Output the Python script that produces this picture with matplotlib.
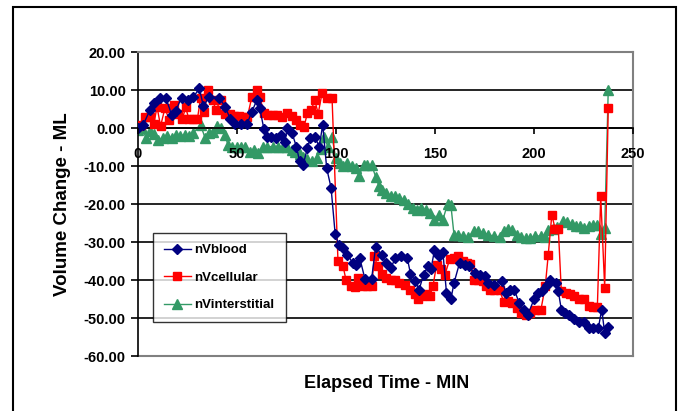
import matplotlib
matplotlib.use("Agg")
import matplotlib.pyplot as plt
from matplotlib.patches import Rectangle

plt.rcParams['font.family'] = ['Liberation Sans', 'DejaVu Sans']

# elapsed time (min) and volume change (ml) per series
t_blood = [0, 2.6, 6, 8, 11, 14, 17, 19, 22, 25, 28, 31, 33, 36, 41, 44, 46.5, 49, 52, 55,
           57.5, 60, 61.5, 63.6, 65, 67, 69.6, 72, 74, 75.5, 77.7, 80, 81.6, 83.4, 85.6, 87,
           89.3, 91.5, 93.3, 95.3, 97.5, 99.6, 101.4, 103.6, 105.8, 108.4, 110, 112, 114.6,
           118, 120, 123, 125, 127.7, 130, 133, 136, 137.6, 140, 142, 144.2, 146.4, 148,
           149.7, 152, 154, 155.8, 158, 159.6, 162.4, 165, 167, 170, 172.7, 175, 177, 180,
           183.7, 186, 188, 190, 192.5, 194.7, 196.9, 200, 202, 204, 206.5, 208, 211, 212.3,
           213.8, 215.5, 217.7, 220, 222.6, 225.4, 227.6, 230, 232.5, 234.2, 235.7, 237.5]
v_blood = [0, 0.8, 4.7, 6.5, 8, 8, 3.5, 4.5, 8, 7.3, 8.2, 10.4, 5.8, 8.2, 8, 5.6, 2.5, 1, 1, 1,
           4.3, 7.3, 5.2, -0.3, -2.3, -2.3, -2.5, -1.8, -3.6, -0.1, -1.2, -4.9, -8.7, -9.7,
           -5.2, -2.7, -2.3, -4.9, 0.8, -10.6, -15.7, -28, -30.7, -31.6, -33.3, -35.5, -36.1,
           -34.2, -39.7, -39.7, -31.3, -33.3, -35.5, -36.8, -34.2, -33.8, -34.2, -38.3, -40.3,
           -42.5, -38.6, -36.4, -37.1, -32.2, -33.6, -32.7, -43.4, -45.1, -40.8, -35.5, -36,
           -36.4, -38.1, -38.6, -39, -40.8, -41.2, -40.3, -43.4, -42.7, -42.5, -46, -47.8,
           -49.1, -45.1, -43.4, -43, -41.2, -39.9, -40.8, -43, -47.8, -48.6, -49.3, -50.2,
           -51.1, -51.1, -52.6, -52.6, -52.6, -47.8, -53.9, -52.3]

t_cell = [0, 1.5, 3.3, 6, 8, 9.6, 11.4, 13.6, 15.8, 18, 20, 22.4, 24, 25.7, 28, 30, 31.6, 33.4,
          35.5, 37.8, 39.3, 41.7, 44, 46.5, 48.7, 51, 53, 55.3, 57.5, 60, 61.5, 63.6, 65.8, 68,
          70.2, 72.9, 75.5, 77.7, 80, 81.6, 83.8, 85.6, 87.4, 89.3, 91, 93, 95.3, 98, 101,
          103.6, 105, 107.5, 109.7, 111.3, 113.5, 115.7, 118, 119.4, 121, 123.4, 125.5, 127.7,
          130, 132, 134.8, 137.6, 140, 141.4, 143.5, 145.7, 147.5, 149, 150.8, 153, 155, 157.4,
          159.6, 161.8, 164, 166, 167.7, 169.5, 171.6, 174, 176, 178, 180, 182.6, 184.8, 187,
          189, 191.4, 193.6, 195.8, 198, 200.6, 203.5, 205.7, 207.2, 209, 210.7, 212.3, 213.8,
          216, 218, 220.4, 222.6, 225.4, 227.6, 230, 232, 233.7, 235.7, 237.5]
v_cell = [0.4, 0.8, 3, 2.8, 1, 5.6, 0.5, 5.2, 2.1, 6, 3.8, 2.3, 5.4, 2.5, 2.3, 2.3, 8, 4.3, 10.1,
          7.3, 4.7, 7.3, 3.8, 3.7, 3.1, 3.1, 3, 3, 8.2, 10, 8.2, 4, 3.4, 3.4, 3.4, 3, 4, 3.1,
          2.1, 0.8, 0.2, 4, 4.7, 7.3, 3.8, 9.3, 8, 8, -35, -36.4, -39.9, -41.6, -41.8, -39.5,
          -41.5, -41.6, -41.6, -33.8, -36.4, -38.3, -39.5, -40, -40, -40.8, -41.2, -42.5,
          -43.8, -45.1, -44.3, -43.8, -44.1, -41.5, -36, -37.1, -38.6, -34.6, -34.2, -33.8,
          -35.1, -35.5, -35.7, -39.9, -40, -40.3, -41.5, -42.5, -42.7, -42.7, -45.8, -45.5,
          -46, -47.3, -48.6, -49.1, -48.6, -47.8, -47.8, -41.6, -33.3, -22.8, -26.6, -26.6,
          -43, -43.3, -43.6, -44.1, -45, -45.1, -46.9, -47.1, -47.1, -18, -42, 5.3]

t_inter = [0, 2.2, 4, 6, 8, 10.3, 12.5, 14.7, 17, 19, 21.3, 23.5, 25.7, 28, 31.6, 33.8, 36, 38,
           40, 41.7, 44, 45.4, 47.6, 49.8, 52, 54, 56.4, 58.6, 60.8, 63, 65, 68, 70.7, 73, 75,
           77.7, 79.5, 81.6, 83.4, 85.6, 87.8, 90.4, 92.2, 93.7, 96, 98, 99.9, 101.8, 103.6,
           105.8, 108, 110, 111.5, 114, 115.7, 118, 120, 121.6, 123.4, 125.5, 127.7, 130, 132,
           134.3, 136.5, 138.7, 141, 143, 145.3, 147.5, 149.7, 152, 154, 156.4, 158, 159.6,
           161.8, 164, 166.8, 169.5, 171.6, 174.3, 177, 180, 182.6, 184.8, 187, 189, 191.4,
           193.6, 195.8, 198, 200.6, 203.5, 205.7, 207.2, 209.4, 211.6, 214.4, 216.6, 219, 221,
           223.3, 225.4, 227.6, 230, 232, 233.7, 235.7, 237.5]
v_inter = [-0.4, -0.1, -2.5, -0.7, -1.6, -3.2, -2.5, -2.1, -2.5, -1.8, -2.1, -1.8, -2.1, -1.2,
           0.8, -2.5, -1.2, -1, 0.5, -0.1, -1.8, -4.5, -4.9, -4.9, -5.1, -4.9, -6.2, -5.8,
           -6.6, -4.9, -4.9, -4.9, -4.9, -5.1, -5.1, -5.8, -6.2, -6.8, -7.5, -8.2, -8.8, -8,
           -5.4, -2.3, -4.9, -2.3, -8, -9.1, -10.1, -9.3, -10.1, -10.6, -12.6, -9.7, -9.7,
           -9.7, -12.8, -15.2, -16.3, -17.1, -17.8, -17.8, -18.5, -18.9, -19.9, -21.1, -21.5,
           -21.1, -21.5, -22.4, -24.1, -22.8, -24.1, -19.9, -20.2, -28.1, -28.1, -28.5, -28.7,
           -27.2, -27, -27.5, -28.1, -28.5, -28.7, -27.2, -26.6, -26.8, -28.1, -28.7, -29,
           -29, -28.3, -28.5, -28.7, -26.8, -26.6, -26.1, -24.6, -24.8, -25.2, -25.7, -25.9,
           -26.3, -25.7, -25.4, -25.4, -28, -26.3, 10.1]

x_ticks = [0, 50, 100, 150, 200, 250]
y_ticks = [20, 10, 0, -10, -20, -30, -40, -50, -60]

fig = plt.figure(figsize=(6.81, 4.11), dpi=100)
ax = fig.add_axes([138 / 681, 1 - 356 / 411, 495 / 681, 304 / 411])

# chart border round the whole figure
fig.patches.append(Rectangle((13 / 681, -0.1), 663 / 681, 1.1 - 7 / 411, transform=fig.transFigure,
                             fill=False, edgecolor='black', linewidth=1.5, clip_on=False))

for y in y_ticks[1:-1]:
    ax.axhline(y, color='black', linewidth=1.2, zorder=1)
ax.axhline(-60, color='#808080', linewidth=1.5, zorder=1, clip_on=False)

ax.plot(t_blood, v_blood, color='#000080', linewidth=1, marker='D', markersize=5,
        label='nVblood', zorder=4)
ax.plot(t_cell, v_cell, color='#FF0000', linewidth=1, marker='s', markersize=6,
        label='nVcellular', zorder=3)
ax.plot(t_inter, v_inter, color='#339966', linewidth=1, marker='^', markersize=6.5,
        label='nVinterstitial', zorder=2)

ax.set_xlim(0, 250)
ax.set_ylim(-60, 20)
ax.set_xticks(x_ticks)
ax.set_yticks(y_ticks)
ax.set_yticklabels(['%.2f' % y for y in y_ticks])

ax.spines['bottom'].set_position(('data', 0))
ax.spines['bottom'].set_color('black')
ax.spines['bottom'].set_linewidth(1.2)
ax.spines['left'].set_color('black')
ax.spines['left'].set_linewidth(1.2)
ax.spines['top'].set_color('#808080')
ax.spines['right'].set_color('#808080')
ax.spines['top'].set_linewidth(1.5)
ax.spines['right'].set_linewidth(1.5)

# x labels sit inside the plot, keep them on top of the markers
ax.xaxis.set_zorder(5)
ax.tick_params(axis='x', direction='out', length=4, width=1.2, pad=10)
ax.tick_params(axis='y', direction='out', length=5, width=1.2, pad=4)
for lab in ax.get_xticklabels() + ax.get_yticklabels():
    lab.set_fontweight('bold')
    lab.set_fontsize(10.5)

ax.set_ylabel('Volume Change - ML', fontsize=13.5, fontweight='bold', labelpad=9)
fig.text(387 / 681, 1 - 383 / 411, 'Elapsed Time - MIN', fontsize=13, fontweight='bold',
         ha='center', va='center')

leg = ax.legend(loc='upper left', bbox_to_anchor=(15 / 495, 123 / 304), borderaxespad=0,
                frameon=True, fancybox=False, edgecolor='black', handlelength=2.0,
                labelspacing=1.15, borderpad=0.85, handletextpad=0.3,
                prop={'weight': 'bold', 'size': 9.5})
leg.get_frame().set_linewidth(1.0)
leg.set_zorder(6)

fig.savefig('out.png', dpi=100)
